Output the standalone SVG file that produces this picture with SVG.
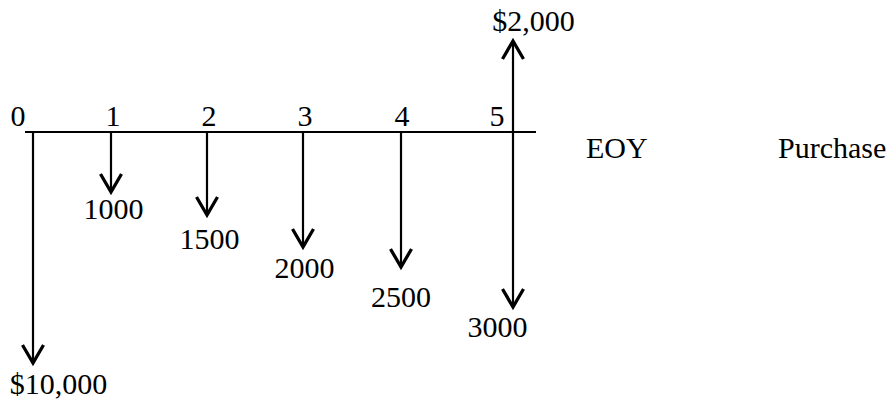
<svg xmlns="http://www.w3.org/2000/svg" width="896" height="402" viewBox="0 0 896 402">
<defs>
<style>
.t{font-family:"Liberation Serif","Times New Roman",serif;font-size:30px;fill:#000}
.m{text-anchor:middle}
.ln{stroke:#000;stroke-width:2.2;fill:none}
</style>
<marker id="ah" markerUnits="userSpaceOnUse" markerWidth="30" markerHeight="30" viewBox="-16 -10 20 20" refX="0" refY="0" orient="auto" overflow="visible">
<path d="M -12 -7 L 0 0 L -12 7" fill="none" stroke="#000" stroke-width="2.2"/>
</marker>
</defs>
<rect width="896" height="402" fill="#fff"/>
<g id="timeline">
<line class="ln" x1="25" y1="132" x2="536" y2="132"/>
</g>
<g id="connectors">
<line class="ln" x1="33" y1="132" x2="33" y2="363" marker-end="url(#ah)"/>
<line class="ln" x1="111" y1="132" x2="111" y2="192" marker-end="url(#ah)"/>
<line class="ln" x1="207" y1="132" x2="207" y2="215" marker-end="url(#ah)"/>
<line class="ln" x1="303" y1="132" x2="303" y2="247" marker-end="url(#ah)"/>
<line class="ln" x1="401" y1="132" x2="401" y2="267" marker-end="url(#ah)"/>
<line class="ln" x1="513" y1="132" x2="513" y2="307" marker-end="url(#ah)"/>
<line class="ln" x1="513" y1="132" x2="513" y2="41" marker-end="url(#ah)"/>
</g>
<g id="period-labels">
<text class="t m" x="18" y="126">0</text>
<text class="t m" x="113" y="126">1</text>
<text class="t m" x="209" y="126">2</text>
<text class="t m" x="305" y="126">3</text>
<text class="t m" x="402" y="126">4</text>
<text class="t m" x="497" y="126">5</text>
</g>
<g id="amount-labels">
<text class="t m" x="533.5" y="31">$2,000</text>
<text class="t m" x="113.5" y="219">1000</text>
<text class="t m" x="209.5" y="249">1500</text>
<text class="t m" x="304.5" y="278">2000</text>
<text class="t m" x="401" y="307">2500</text>
<text class="t m" x="497.5" y="337">3000</text>
<text class="t m" x="58.5" y="394">$10,000</text>
</g>
<g id="axis-labels">
<text class="t" x="586" y="158">EOY</text>
<text class="t" x="778" y="158">Purchase</text>
</g>
</svg>
